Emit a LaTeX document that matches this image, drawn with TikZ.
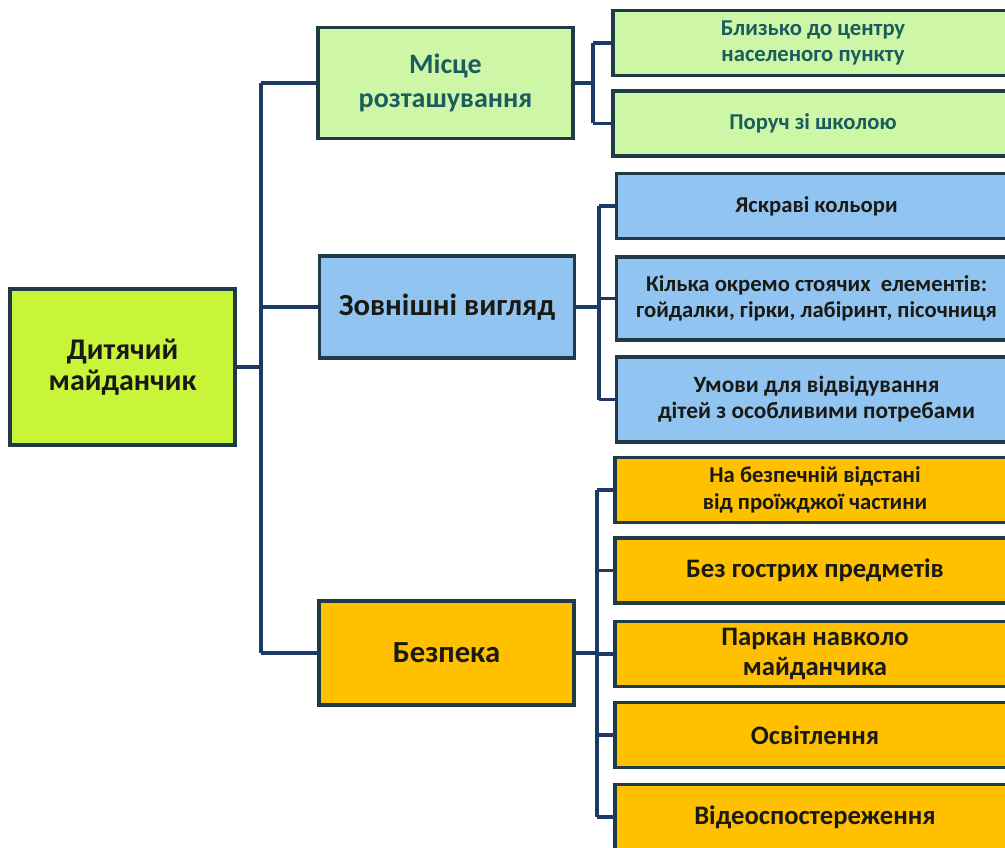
\documentclass[tikz,border=0pt]{standalone}
\usepackage{fontspec}
\setmainfont{Carlito}
\usepackage{xcolor}

\definecolor{limefill}{HTML}{C8F43A}
\definecolor{greenfill}{HTML}{CDF6A6}
\definecolor{bluefill}{HTML}{92C4F1}
\definecolor{orangefill}{HTML}{FFC000}
\definecolor{boxline}{HTML}{1F3B45}
\definecolor{linkline}{HTML}{1C3A66}
\definecolor{tealtext}{HTML}{1B5C60}
\definecolor{darktext}{HTML}{1A1A14}

\tikzset{
    box/.style={draw=boxline, line width=2.6pt, align=center, inner sep=0pt,
        font=\bfseries, text=darktext},
    rootbox/.style={box, fill=limefill, minimum width=168.75pt, minimum height=117pt,
        font=\fontsize{22.5}{23.5}\selectfont\bfseries},
    mainbox/.style={box, minimum width=191.25pt, minimum height=78pt,
        font=\fontsize{23}{25}\selectfont\bfseries},
    leafbox/.style={box, minimum width=300pt, minimum height=48.75pt,
        font=\fontsize{17}{20}\selectfont\bfseries},
    bigleaf/.style={font=\fontsize{20}{22.5}\selectfont\bfseries},
    link/.style={draw=linkline, line width=2.6pt}
}

\begin{document}
\begin{tikzpicture}[x=0.75pt, y=-0.75pt]
    \useasboundingbox (0,0) rectangle (1005,848);
    \clip (0,0) rectangle (1005,848);

    \node[rootbox] (root) at (122.5, 367) {Дитячий\\майданчик};

    \node[mainbox, fill=greenfill, text=tealtext, minimum height=83pt,
        font=\fontsize{21}{25.5}\selectfont\bfseries] (loc) at (445.5, 83) {Місце\\розташування};
    \node[mainbox, fill=bluefill, minimum height=76.5pt] (look) at (447, 307) {Зовнішні вигляд};
    \node[mainbox, fill=orangefill] (safe) at (446.5, 653) {Безпека};

    \node[leafbox, fill=greenfill, text=tealtext] (loc_a) at (813, 43) {Близько до центру\\населеного пункту};
    \node[leafbox, fill=greenfill, text=tealtext] (loc_b) at (813, 123.5) {Поруч зі школою};

    \node[leafbox, fill=bluefill] (look_a) at (816.5, 206) {Яскраві кольори};
    \node[leafbox, fill=bluefill, minimum height=62pt, font=\fontsize{17}{19}\selectfont\bfseries] (look_b) at (816.5, 298.5) {Кілька окремо стоячих~ елементів:\\гойдалки, гірки, лабіринт, пісочниця};
    \node[leafbox, fill=bluefill, minimum height=63.75pt, font=\fontsize{17.5}{19.5}\selectfont\bfseries] (look_c) at (816.5, 399.5) {Умови для відвідування\\дітей з особливими потребами};

    \node[leafbox, fill=orangefill] (safe_a) at (815, 490) {На безпечній відстані\\від проїжджої частини};
    \node[leafbox, fill=orangefill, bigleaf] (safe_b) at (815, 570.5) {Без гострих предметів};
    \node[leafbox, fill=orangefill, bigleaf] (safe_c) at (815, 654) {Паркан навколо\\майданчика};
    \node[leafbox, fill=orangefill, bigleaf] (safe_d) at (815, 735) {Освітлення};
    \node[leafbox, fill=orangefill, bigleaf] (safe_e) at (815, 817) {Відеоспостереження};

    % buses
    \coordinate (bus_root) at (261, 0);
    \coordinate (bus_loc) at (593, 0);
    \coordinate (bus_look) at (599, 0);
    \coordinate (bus_safe) at (597, 0);

    \draw[link]
    (root.east) -- (root.east -| bus_root)
    (bus_root |- loc.west) -- (bus_root |- safe.west)
    (bus_root |- loc.west) -- (loc.west)
    (bus_root |- look.west) -- (look.west)
    (bus_root |- safe.west) -- (safe.west);

    \draw[link]
    (loc.east) -- (loc.east -| bus_loc)
    (bus_loc |- loc_a.west) -- (bus_loc |- loc_b.west)
    (bus_loc |- loc_a.west) -- (loc_a.west)
    (bus_loc |- loc_b.west) -- (loc_b.west);

    \draw[link]
    (look.east) -- (look.east -| bus_look)
    (bus_look |- look_a.west) -- (bus_look |- look_c.west)
    (bus_look |- look_a.west) -- (look_a.west)
    (bus_look |- look_b.west) -- (look_b.west)
    (bus_look |- look_c.west) -- (look_c.west);

    \draw[link]
    (safe.east) -- (safe.east -| bus_safe)
    (bus_safe |- safe_a.west) -- (bus_safe |- safe_e.west)
    (bus_safe |- safe_a.west) -- (safe_a.west)
    (bus_safe |- safe_b.west) -- (safe_b.west)
    (bus_safe |- safe_c.west) -- (safe_c.west)
    (bus_safe |- safe_d.west) -- (safe_d.west)
    (bus_safe |- safe_e.west) -- (safe_e.west);
\end{tikzpicture}
\end{document}
